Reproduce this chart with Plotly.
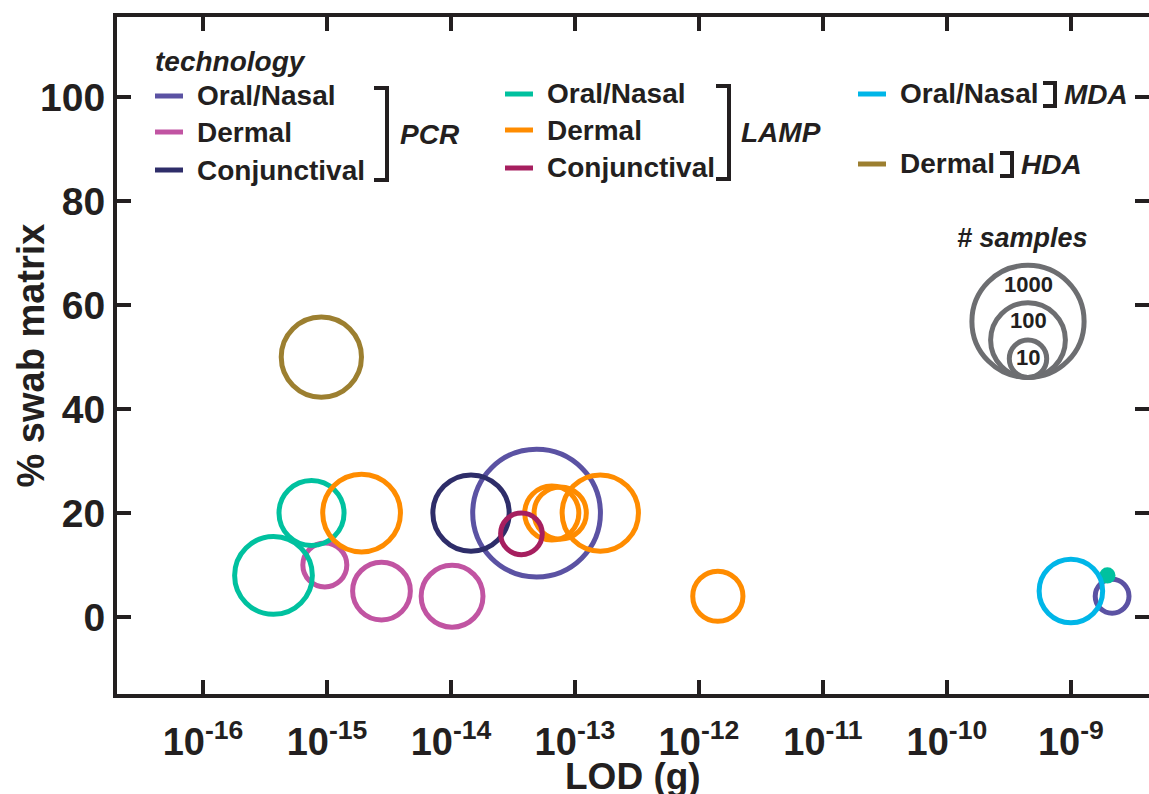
import numpy as np
import plotly.graph_objects as go

# ---------------- data ----------------
technology = ["PCR", "PCR", "PCR", "PCR", "PCR", "PCR",
              "LAMP", "LAMP", "LAMP", "LAMP", "LAMP", "LAMP", "LAMP", "LAMP", "LAMP",
              "MDA", "HDA"]
matrix = ["Oral/Nasal", "Oral/Nasal", "Dermal", "Dermal", "Dermal", "Conjunctival",
          "Oral/Nasal", "Oral/Nasal", "Oral/Nasal", "Dermal", "Dermal", "Dermal", "Dermal", "Dermal",
          "Conjunctival",
          "Oral/Nasal", "Dermal"]
lod_g = [4.9e-14, 2.15e-9, 9.6e-16, 2.75e-15, 1.02e-14, 1.45e-14,
         7.5e-16, 3.7e-16, 1.97e-9, 1.9e-15, 6.5e-14, 7.6e-14, 1.6e-13, 1.42e-12,
         3.7e-14,
         1.0e-9, 9.0e-16]
pct_swab = [20, 4, 10, 5, 4, 20,
            20, 8, 8, 20, 20, 20, 20, 4,
            16,
            5, 50]
n_samples = [2600, 8, 15, 35, 45, 110,
             55, 120, 2, 120, 28, 25, 110, 22,
             13,
             50, 140]

legend_groups = ["PCR", "LAMP", "MDA", "HDA"]
legend_matrices = {"PCR": ["Oral/Nasal", "Dermal", "Conjunctival"],
                   "LAMP": ["Oral/Nasal", "Dermal", "Conjunctival"],
                   "MDA": ["Oral/Nasal"],
                   "HDA": ["Dermal"]}
size_legend_values = [1000, 100, 10]

x_tick_exponents = [-16, -15, -14, -13, -12, -11, -10, -9]
y_tick_values = [0, 20, 40, 60, 80, 100]

# ---------------- styles ----------------
colors = {
    ("PCR", "Oral/Nasal"): "#5b52a3",
    ("PCR", "Dermal"): "#c154a2",
    ("PCR", "Conjunctival"): "#2e2d69",
    ("LAMP", "Oral/Nasal"): "#00c19f",
    ("LAMP", "Dermal"): "#ff8c00",
    ("LAMP", "Conjunctival"): "#a61f5f",
    ("MDA", "Oral/Nasal"): "#00b6e8",
    ("HDA", "Dermal"): "#9c7f30",
}
INK = "#231f20"
GREY = "#6d6e71"
FONT = "Liberation Sans"
K = 18.7          # px radius per decade of samples
LW = 5

W, H = 1149, 794
L, R, T, B = 117, 1149, 17, 694


def px_x(p):
    return (p - L) / (R - L)


def px_y(p):
    return (B - p) / (B - T)


def diam(n):
    return 2 * K * np.log10(n)


fig = go.Figure()

order = [("PCR", "Oral/Nasal"), ("PCR", "Dermal"), ("PCR", "Conjunctival"),
         ("LAMP", "Oral/Nasal"), ("LAMP", "Dermal"), ("LAMP", "Conjunctival"),
         ("MDA", "Oral/Nasal"), ("HDA", "Dermal")]
for key in order:
    idx = [i for i in range(len(lod_g)) if (technology[i], matrix[i]) == key]
    if not idx:
        continue
    sizes = [diam(n_samples[i]) for i in idx]
    fills = [colors[key] if s < 3 * LW else "rgba(0,0,0,0)" for s in sizes]
    fig.add_trace(go.Scatter(
        x=[lod_g[i] for i in idx], y=[pct_swab[i] for i in idx],
        mode="markers", name=f"{key[0]} {key[1]}", showlegend=False,
        marker=dict(size=sizes, color=fills, symbol="circle", opacity=1,
                    line=dict(color=colors[key], width=LW)),
        hovertemplate="LOD %{x:.2e} g<br>%{y}%<extra>" + f"{key[0]} {key[1]}" + "</extra>",
    ))

shapes = []
annotations = []

# technology legend
annotations.append(dict(text="<b><i>technology</i></b>", x=px_x(153), y=px_y(62),
                        xref="paper", yref="paper", xanchor="left", yanchor="middle",
                        showarrow=False, font=dict(size=28, color=INK, family=FONT)))

legend_layout = {
    "PCR": dict(sw=155, rows=[96, 132, 170], br=387, stub=374, top=88, bot=180, lab=398),
    "LAMP": dict(sw=505, rows=[94, 130, 168], br=729, stub=716, top=86, bot=179, lab=739),
    "MDA": dict(sw=858, rows=[94], br=1055, stub=1043, top=83, bot=106, lab=1062),
    "HDA": dict(sw=858, rows=[164], br=1012, stub=1000, top=153, bot=176, lab=1019),
}
for g in legend_groups:
    lay = legend_layout[g]
    for m, yy in zip(legend_matrices[g], lay["rows"]):
        shapes.append(dict(type="line", xref="paper", yref="paper",
                           x0=px_x(lay["sw"]), x1=px_x(lay["sw"] + 28),
                           y0=px_y(yy), y1=px_y(yy),
                           line=dict(color=colors[(g, m)], width=5)))
        annotations.append(dict(text=f"<b>{m}</b>", x=px_x(lay["sw"] + 40), y=px_y(yy),
                                xref="paper", yref="paper", xanchor="left", yanchor="middle",
                                showarrow=False, font=dict(size=28, color=INK, family=FONT)))
    x0, x1 = px_x(lay["stub"]), px_x(lay["br"])
    y0, y1 = px_y(lay["top"]), px_y(lay["bot"])
    shapes.append(dict(type="path", xref="paper", yref="paper",
                       path=f"M {x0},{y0} L {x1},{y0} L {x1},{y1} L {x0},{y1}",
                       line=dict(color=INK, width=4)))
    annotations.append(dict(text=f"<b><i>{g}</i></b>", x=px_x(lay["lab"]),
                            y=(y0 + y1) / 2, xref="paper", yref="paper",
                            xanchor="left", yanchor="middle", showarrow=False,
                            font=dict(size=28, color=INK, family=FONT)))

# sample-size legend
cx, cy_bottom = px_x(1028), px_y(377.5)
annotations.append(dict(text="<b><i># samples</i></b>", x=px_x(1022), y=px_y(238),
                        xref="paper", yref="paper", xanchor="center", yanchor="middle",
                        showarrow=False, font=dict(size=27, color=INK, family=FONT)))
label_y = {1000: 284, 100: 320, 10: 357}
for n in size_legend_values:
    r = diam(n) / 2
    shapes.append(dict(type="circle", xref="paper", yref="paper",
                       xsizemode="pixel", ysizemode="pixel",
                       xanchor=cx, yanchor=cy_bottom,
                       x0=-r, x1=r, y0=0, y1=2 * r,
                       line=dict(color=GREY, width=LW)))
    annotations.append(dict(text=f"<b>{n}</b>", x=cx, y=px_y(label_y[n]),
                            xref="paper", yref="paper", xanchor="center", yanchor="middle",
                            showarrow=False, font=dict(size=22, color=INK, family=FONT)))

# axis titles (placed explicitly)
annotations.append(dict(text="<b>LOD (g)</b>", x=0.5, y=px_y(777),
                        xref="paper", yref="paper", xanchor="center", yanchor="middle",
                        showarrow=False, font=dict(size=37, color=INK, family=FONT)))
annotations.append(dict(text="<b>% swab matrix</b>", x=px_x(30), y=0.5, textangle=-90,
                        xref="paper", yref="paper", xanchor="center", yanchor="middle",
                        showarrow=False, font=dict(size=38, color=INK, family=FONT)))

fig.update_layout(
    width=W, height=H,
    margin=dict(l=L, r=W - R, t=T, b=H - B, autoexpand=False),
    paper_bgcolor="white", plot_bgcolor="white",
    font=dict(family=FONT, color=INK),
    shapes=shapes, annotations=annotations,
    xaxis=dict(
        type="log", automargin=False,
        range=[-16.694, -8.37],
        tickvals=[10.0 ** e for e in x_tick_exponents],
        ticktext=[f"<b>10<sup>-{-e}</sup></b>" for e in x_tick_exponents],
        ticks="inside", ticklen=14, tickwidth=4, tickcolor=INK,
        showline=True, linewidth=4, linecolor=INK, mirror="ticks",
        showgrid=False, zeroline=False, ticklabelstandoff=11,
        tickfont=dict(size=38, color=INK, family=FONT),
    ),
    yaxis=dict(
        automargin=False,
        range=[-14.8, 115.4],
        tickvals=y_tick_values,
        ticktext=[f"<b>{v}</b>" for v in y_tick_values],
        ticks="inside", ticklen=14, tickwidth=4, tickcolor=INK,
        showline=True, linewidth=4, linecolor=INK, mirror="ticks",
        showgrid=False, zeroline=False,
        tickfont=dict(size=39, color=INK, family=FONT),
    ),
)

fig.write_html("out.html", config={"displayModeBar": False},
               post_script="document.body.style.margin='0';document.body.style.overflow='hidden';")
